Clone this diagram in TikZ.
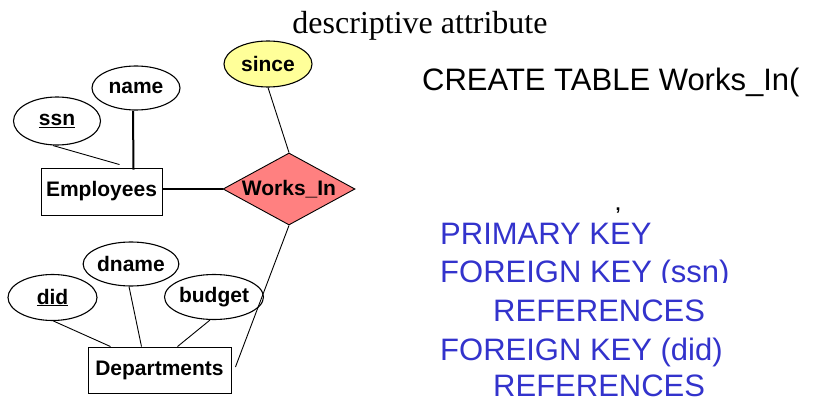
\documentclass[tikz,border=0pt]{standalone}
\usepackage{fontspec}
\setmainfont{Liberation Sans}
\newfontfamily\seriffont{Liberation Serif}
\usetikzlibrary{shapes.geometric}

\definecolor{relred}{RGB}{255,128,128}
\definecolor{attryellow}{RGB}{255,255,153}
\definecolor{sqlblue}{RGB}{51,51,204}

\begin{document}
\begin{tikzpicture}[x=1pt,y=-1pt,
  erfont/.style={font=\fontsize{21}{25}\selectfont\bfseries},
  attr/.style={ellipse,draw,line width=1.1pt,inner sep=0pt,erfont},
  entity/.style={rectangle,draw,line width=0.9pt,inner sep=0pt,erfont},
  rel/.style={diamond,draw,line width=0.9pt,fill=relred,inner sep=0pt,aspect=1.83,
              minimum width=132pt,minimum height=72pt,erfont},
  link/.style={line width=0.9pt},
  heavylink/.style={line width=2pt},
  sql/.style={anchor=base west,inner sep=0pt,font=\fontsize{31}{36}\selectfont},
  blue sql/.style={sql,text=sqlblue}
]
\useasboundingbox (0,0) rectangle (814,401);

% caption over the relationship attribute
\node[inner sep=0pt,anchor=base,font=\seriffont\fontsize{32}{36}\selectfont]
  (caption) at (420,34) {descriptive attribute};

% ER diagram: entities, relationship, attributes
\node[entity,minimum width=121pt,minimum height=47pt] (emp) at (101.5,191.5) {Employees};
\node[entity,minimum width=143pt,minimum height=46pt] (dep) at (159.5,370) {Departments};
\node[rel] (works) at (289,189) {Works\_In};

\node[attr,fill=attryellow,minimum width=88pt,minimum height=46pt] (since) at (268,64) {since};
\node[attr,minimum width=88pt,minimum height=44pt] (name) at (136,88) {name};
\node[attr,minimum width=87pt,minimum height=48pt] (ssn) at (57,121) {\underline{ssn}};
\node[attr,minimum width=89pt,minimum height=46pt] (did) at (52.5,297.5) {\underline{did}};
\node[attr,minimum width=87pt,minimum height=44pt] (dname) at (131,264) {dname};
\node[attr,minimum width=88pt,minimum height=45pt] (budget) at (214,297) {budget};

% connectors
\draw[link] (since.south) -- (works.north);
\draw[heavylink] (emp.east |- works.west) -- (works.west);
\draw[heavylink] ([xshift=-3pt]name.south) -- ([xshift=32pt,yshift=-2pt]emp.north);
\draw[link] ([xshift=-4pt]ssn.south) -- ([xshift=18pt,yshift=3pt]emp.north);
\draw[link] ([xshift=1pt]did.south) -- ([xshift=-49pt]dep.north);
\draw[link] ([xshift=-2pt]dname.south) -- ([xshift=-18pt]dep.north);
\draw[link] ([xshift=-4pt]budget.south) -- ([xshift=18pt]dep.north);
\draw[link] (works.south) -- ([xshift=4pt,yshift=3pt]dep.east);

% SQL definition
\node[sql] (create) at (422,91) {CREATE TABLE Works\_In(};
\node[inner sep=0pt,anchor=base,font=\fontsize{18}{20}\selectfont\bfseries] (comma) at (618,210) {,};
\node[blue sql] (pk) at (440,244) {PRIMARY KEY};
\node[blue sql] (fk1) at (440,282) {FOREIGN KEY (ssn)};
\fill[white] (662,282.6) rectangle (750,292);
\node[blue sql] (ref1) at (493,321) {REFERENCES};
\node[blue sql] (fk2) at (440,360) {FOREIGN KEY (did)};
\node[blue sql] (ref2) at (493,396) {REFERENCES};
\end{tikzpicture}
\end{document}
